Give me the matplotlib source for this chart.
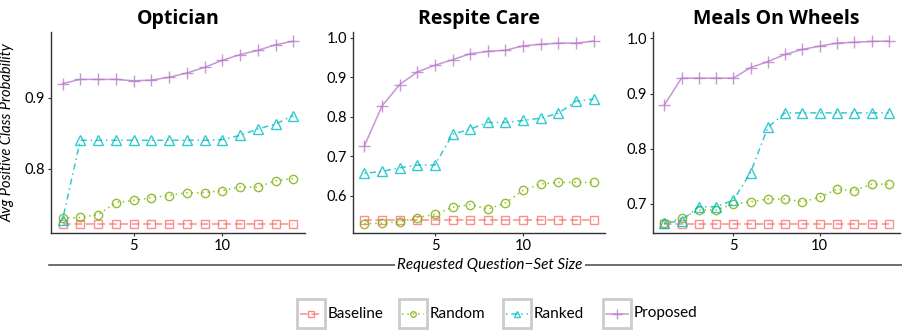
import numpy as np
import matplotlib
matplotlib.use("Agg")
import matplotlib.pyplot as plt
from matplotlib.lines import Line2D
from matplotlib.patches import Rectangle
from matplotlib.ticker import MultipleLocator

plt.rcParams["font.family"] = ["Lato", "DejaVu Sans"]

# question-set sizes shared by every panel
SIZES = list(range(1, 15))
PANELS = ["Optician", "Respite Care", "Meals On Wheels"]
METHODS = ["Baseline", "Random", "Ranked", "Proposed"]

optician_baseline = [0.722] * 14
optician_random = [0.730, 0.731, 0.735, 0.752, 0.755, 0.759, 0.762, 0.766, 0.766,
                   0.769, 0.774, 0.774, 0.783, 0.786]
optician_ranked = [0.728, 0.840, 0.840, 0.840, 0.840, 0.840, 0.840, 0.840, 0.840,
                   0.841, 0.847, 0.856, 0.863, 0.875]
optician_proposed = [0.920, 0.926, 0.926, 0.926, 0.924, 0.925, 0.929, 0.935, 0.943,
                     0.953, 0.961, 0.967, 0.975, 0.980]

respite_baseline = [0.538] * 14
respite_random = [0.529, 0.531, 0.534, 0.545, 0.553, 0.571, 0.578, 0.566, 0.582,
                  0.614, 0.630, 0.634, 0.634, 0.634]
respite_ranked = [0.657, 0.662, 0.671, 0.678, 0.678, 0.756, 0.769, 0.786, 0.786,
                  0.791, 0.797, 0.809, 0.840, 0.845]
respite_proposed = [0.727, 0.828, 0.882, 0.914, 0.931, 0.945, 0.960, 0.966, 0.969,
                    0.980, 0.984, 0.987, 0.987, 0.992]

meals_baseline = [0.664] * 14
meals_random = [0.666, 0.674, 0.689, 0.689, 0.700, 0.704, 0.709, 0.709, 0.704,
                0.712, 0.727, 0.724, 0.736, 0.736]
meals_ranked = [0.665, 0.670, 0.695, 0.695, 0.707, 0.757, 0.839, 0.865, 0.865,
                0.865, 0.865, 0.865, 0.865, 0.865]
meals_proposed = [0.879, 0.928, 0.928, 0.928, 0.928, 0.947, 0.958, 0.971, 0.980,
                  0.986, 0.9915, 0.993, 0.9945, 0.995]

DATA = {
    "Optician": [optician_baseline, optician_random, optician_ranked, optician_proposed],
    "Respite Care": [respite_baseline, respite_random, respite_ranked, respite_proposed],
    "Meals On Wheels": [meals_baseline, meals_random, meals_ranked, meals_proposed],
}

STYLE = {
    "Baseline": dict(color="#F8766D", marker="s", ls=(0, (5, 2.5)), ms=6),
    "Random": dict(color="#7CAE00", marker="o", ls=(0, (1, 2.5)), ms=6),
    "Ranked": dict(color="#00BFC4", marker="^", ls=(0, (1, 2.5, 4, 2.5)), ms=7),
    "Proposed": dict(color="#B87CCB", marker="+", ls="-", ms=9),
}

W, H = 902, 330
fig = plt.figure(figsize=(W / 100, H / 100), dpi=100, facecolor="white")

ax_boxes = [(51, 305), (353, 605), (653, 900)]
top_px, bot_px = 32, 233

for (x0, x1), name in zip(ax_boxes, PANELS):
    ax = fig.add_axes([x0 / W, (H - bot_px) / H, (x1 - x0) / W, (bot_px - top_px) / H])
    for method, vals in zip(METHODS, DATA[name]):
        st = STYLE[method]
        ax.plot(SIZES, vals, color=st["color"], ls=st["ls"], lw=1.1, alpha=0.8,
                marker=st["marker"], ms=st["ms"], mfc="none", mew=1.0,
                mec=st["color"])
    ax.margins(x=0.05, y=0.05)
    ax.set_xticks([5, 10])
    ax.yaxis.set_major_locator(MultipleLocator(0.1))
    ax.set_title(name, fontsize=14, fontweight="bold", family=["Open Sans", "DejaVu Sans"], pad=6)
    for side in ("top", "right"):
        ax.spines[side].set_visible(False)
    for side in ("left", "bottom"):
        ax.spines[side].set_color("#333333")
        ax.spines[side].set_linewidth(1.0)
    ax.tick_params(labelsize=10.5, length=2.5, width=0.8, color="#333333", pad=2)
    if name == "Optician":
        ax.set_ylabel("Avg Positive Class Probability", fontsize=10.5, style="italic", labelpad=7)

# shared x label with a rule through it
fig.add_artist(Line2D([49 / W, 1.0], [(H - 265) / H] * 2, color="#555555", lw=1.2))
fig.text(490 / W, (H - 265) / H, "Requested Question\u2212Set Size", fontsize=11,
         style="italic", ha="center", va="center",
         bbox=dict(facecolor="white", edgecolor="none", pad=1.5))

# legend drawn with grey key boxes
lg = fig.add_axes([0, 0, 1, 1], facecolor="none")
lg.set_xlim(0, W)
lg.set_ylim(H, 0)
lg.axis("off")
key_left = [297, 399, 503, 603]
for kx, method in zip(key_left, METHODS):
    st = STYLE[method]
    lg.add_patch(Rectangle((kx, 299), 28, 29, fill=False, ec="#CCCCCC", lw=2))
    lg.plot([kx + 3, kx + 25], [313.5, 313.5], color=st["color"], ls=st["ls"], lw=1.1,
            alpha=0.8)
    lg.plot([kx + 14], [313.5], color=st["color"], marker=st["marker"], ms=st["ms"] - 2,
            mfc="none", mew=1.0, alpha=0.8)
    lg.text(kx + 31, 313.5, method, fontsize=11, va="center", ha="left")

fig.savefig("out.png", dpi=100, facecolor="white")
